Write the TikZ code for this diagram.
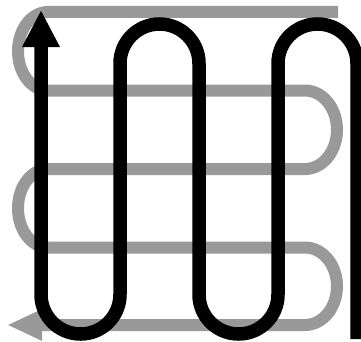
\documentclass[tikz,border=0pt]{standalone}
\usetikzlibrary{arrows.meta}
\tikzset{
  graypath/.style ={draw=black!40, line width=12pt,
                    -{Triangle[length=35pt,width=29pt]}},
  blackpath/.style={draw=black, line width=13.5pt,
                    -{Triangle[length=37pt,width=35pt]}},
}

\begin{document}
\begin{tikzpicture}[x=1pt,y=1pt]
  \useasboundingbox (0,0) rectangle (361,341);
  % horizontal serpentine (grey)
  \coordinate (gin)  at (338,329);
  \coordinate (gout) at (7,16);
  \draw[graypath] (gin) -- (48,329)
    arc[start angle=90, end angle=270, x radius=30, y radius=39.25] -- (305,250.5)
    arc[start angle=90, end angle=-90, x radius=32, y radius=39.25] -- (48,172)
    arc[start angle=90, end angle=270, x radius=30, y radius=39.25] -- (305,93.5)
    arc[start angle=90, end angle=-90, x radius=32, y radius=38.75] -- (80,16) -- (gout);
  % vertical serpentine (black)
  \coordinate (bin)  at (357,2);
  \coordinate (bout) at (41,331);
  \draw[blackpath] (bin) -- (357,277.5)
    arc[start angle=0, end angle=180, radius=39.5] -- (278,46.5)
    arc[start angle=0, end angle=-180, radius=39.5] -- (199,277.5)
    arc[start angle=0, end angle=180, radius=39.5] -- (120,46.5)
    arc[start angle=0, end angle=-180, radius=39.5] -- (bout);
\end{tikzpicture}
\end{document}
